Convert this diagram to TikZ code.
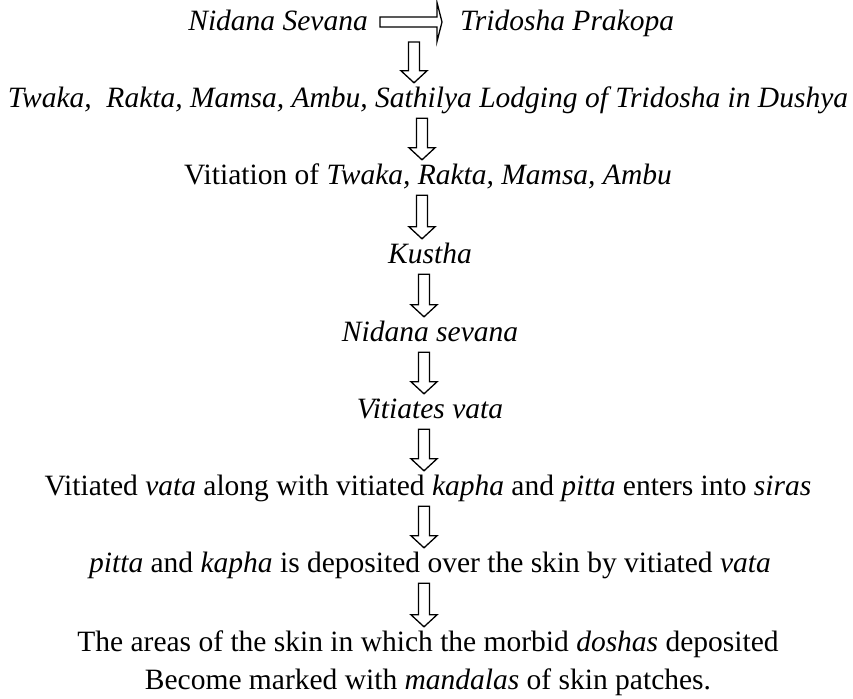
\documentclass[tikz,border=0pt]{standalone}
\usepackage{fontspec}
\setmainfont{Liberation Serif}
\usetikzlibrary{calc}
\begin{document}
\begin{tikzpicture}[x=1pt,y=-1pt,
  txt/.style={inner sep=0pt, anchor=base, font=\fontsize{29.5}{33}\selectfont, text height=20pt, text depth=7pt},
  blockdown/.style={draw=black, line width=1.3pt, line join=miter,
    to path={let \p1=(\tikztostart), \p2=(\tikztotarget) in
      (\x1-5.5pt,\y1) -- (\x1+5.5pt,\y1) -- (\x1+5.5pt,\y2+12pt) -- (\x1+13pt,\y2+12pt)
      -- (\x1,\y2) -- (\x1-13pt,\y2+12pt) -- (\x1-5.5pt,\y2+12pt) -- cycle}},
  blockright/.style={draw=black, line width=1.3pt, line join=miter,
    to path={let \p1=(\tikztostart), \p2=(\tikztotarget) in
      (\x1,\y1+5pt) -- (\x2-5pt,\y1+5pt) -- (\x2-5pt,\y1+19.5pt) -- (\x2,\y1)
      -- (\x2-5pt,\y1-19.5pt) -- (\x2-5pt,\y1-5pt) -- (\x1,\y1-5pt) -- cycle}}
]
\fill[white] (0,0) rectangle (853,698);
\useasboundingbox (0,0) rectangle (853,698);

\node[txt, anchor=base east] (ns) at (368,31) {\itshape Nidana Sevana};
\node[txt, anchor=base west] (tp) at (460,31) {\itshape Tridosha Prakopa};
\node[txt] (l2) at (428,107) {\itshape Twaka,\ \ Rakta, Mamsa, Ambu, Sathilya Lodging of Tridosha in Dushya};
\node[txt] (l3) at (428,184) {Vitiation of \textit{Twaka, Rakta, Mamsa, Ambu}};
\node[txt] (l4) at (430,263) {\itshape Kustha};
\node[txt] (l5) at (430,341) {\itshape Nidana sevana};
\node[txt] (l6) at (430,418) {\itshape Vitiates vata};
\node[txt] (l7) at (428,495) {Vitiated \textit{vata} along with vitiated \textit{kapha} and \textit{pitta} enters into \textit{siras}};
\node[txt] (l8) at (430,572) {\textit{pitta} and \textit{kapha} is deposited over the skin by vitiated \textit{vata}};
\node[txt] (l9) at (428,651) {The areas of the skin in which the morbid \textit{doshas} deposited};
\node[txt] (l10) at (428,689) {Become marked with \textit{mandalas} of skin patches.};

\coordinate (hm) at (414,42);
\draw[blockright] ([xshift=12pt,yshift=9pt]ns.base east) to ([xshift=-18pt,yshift=9pt]tp.base west);
\draw[blockdown] (hm) to ([yshift=4pt]l2.north);
\draw[blockdown] ([xshift=-6pt,yshift=-4pt]l2.south) to ([yshift=4pt]l3.north);
\draw[blockdown] ([xshift=-6pt,yshift=-4pt]l3.south) to ([yshift=4pt]l4.north);
\draw[blockdown] ([xshift=-6pt,yshift=-4pt]l4.south) to ([yshift=4pt]l5.north);
\draw[blockdown] ([xshift=-6pt,yshift=-4pt]l5.south) to ([yshift=4pt]l6.north);
\draw[blockdown] ([xshift=-6pt,yshift=-4pt]l6.south) to ([yshift=4pt]l7.north);
\draw[blockdown] ([xshift=-4pt,yshift=-4pt]l7.south) to ([yshift=4pt]l8.north);
\draw[blockdown] ([xshift=-6pt,yshift=-4pt]l8.south) to ([yshift=4pt]l9.north);
\end{tikzpicture}
\end{document}
